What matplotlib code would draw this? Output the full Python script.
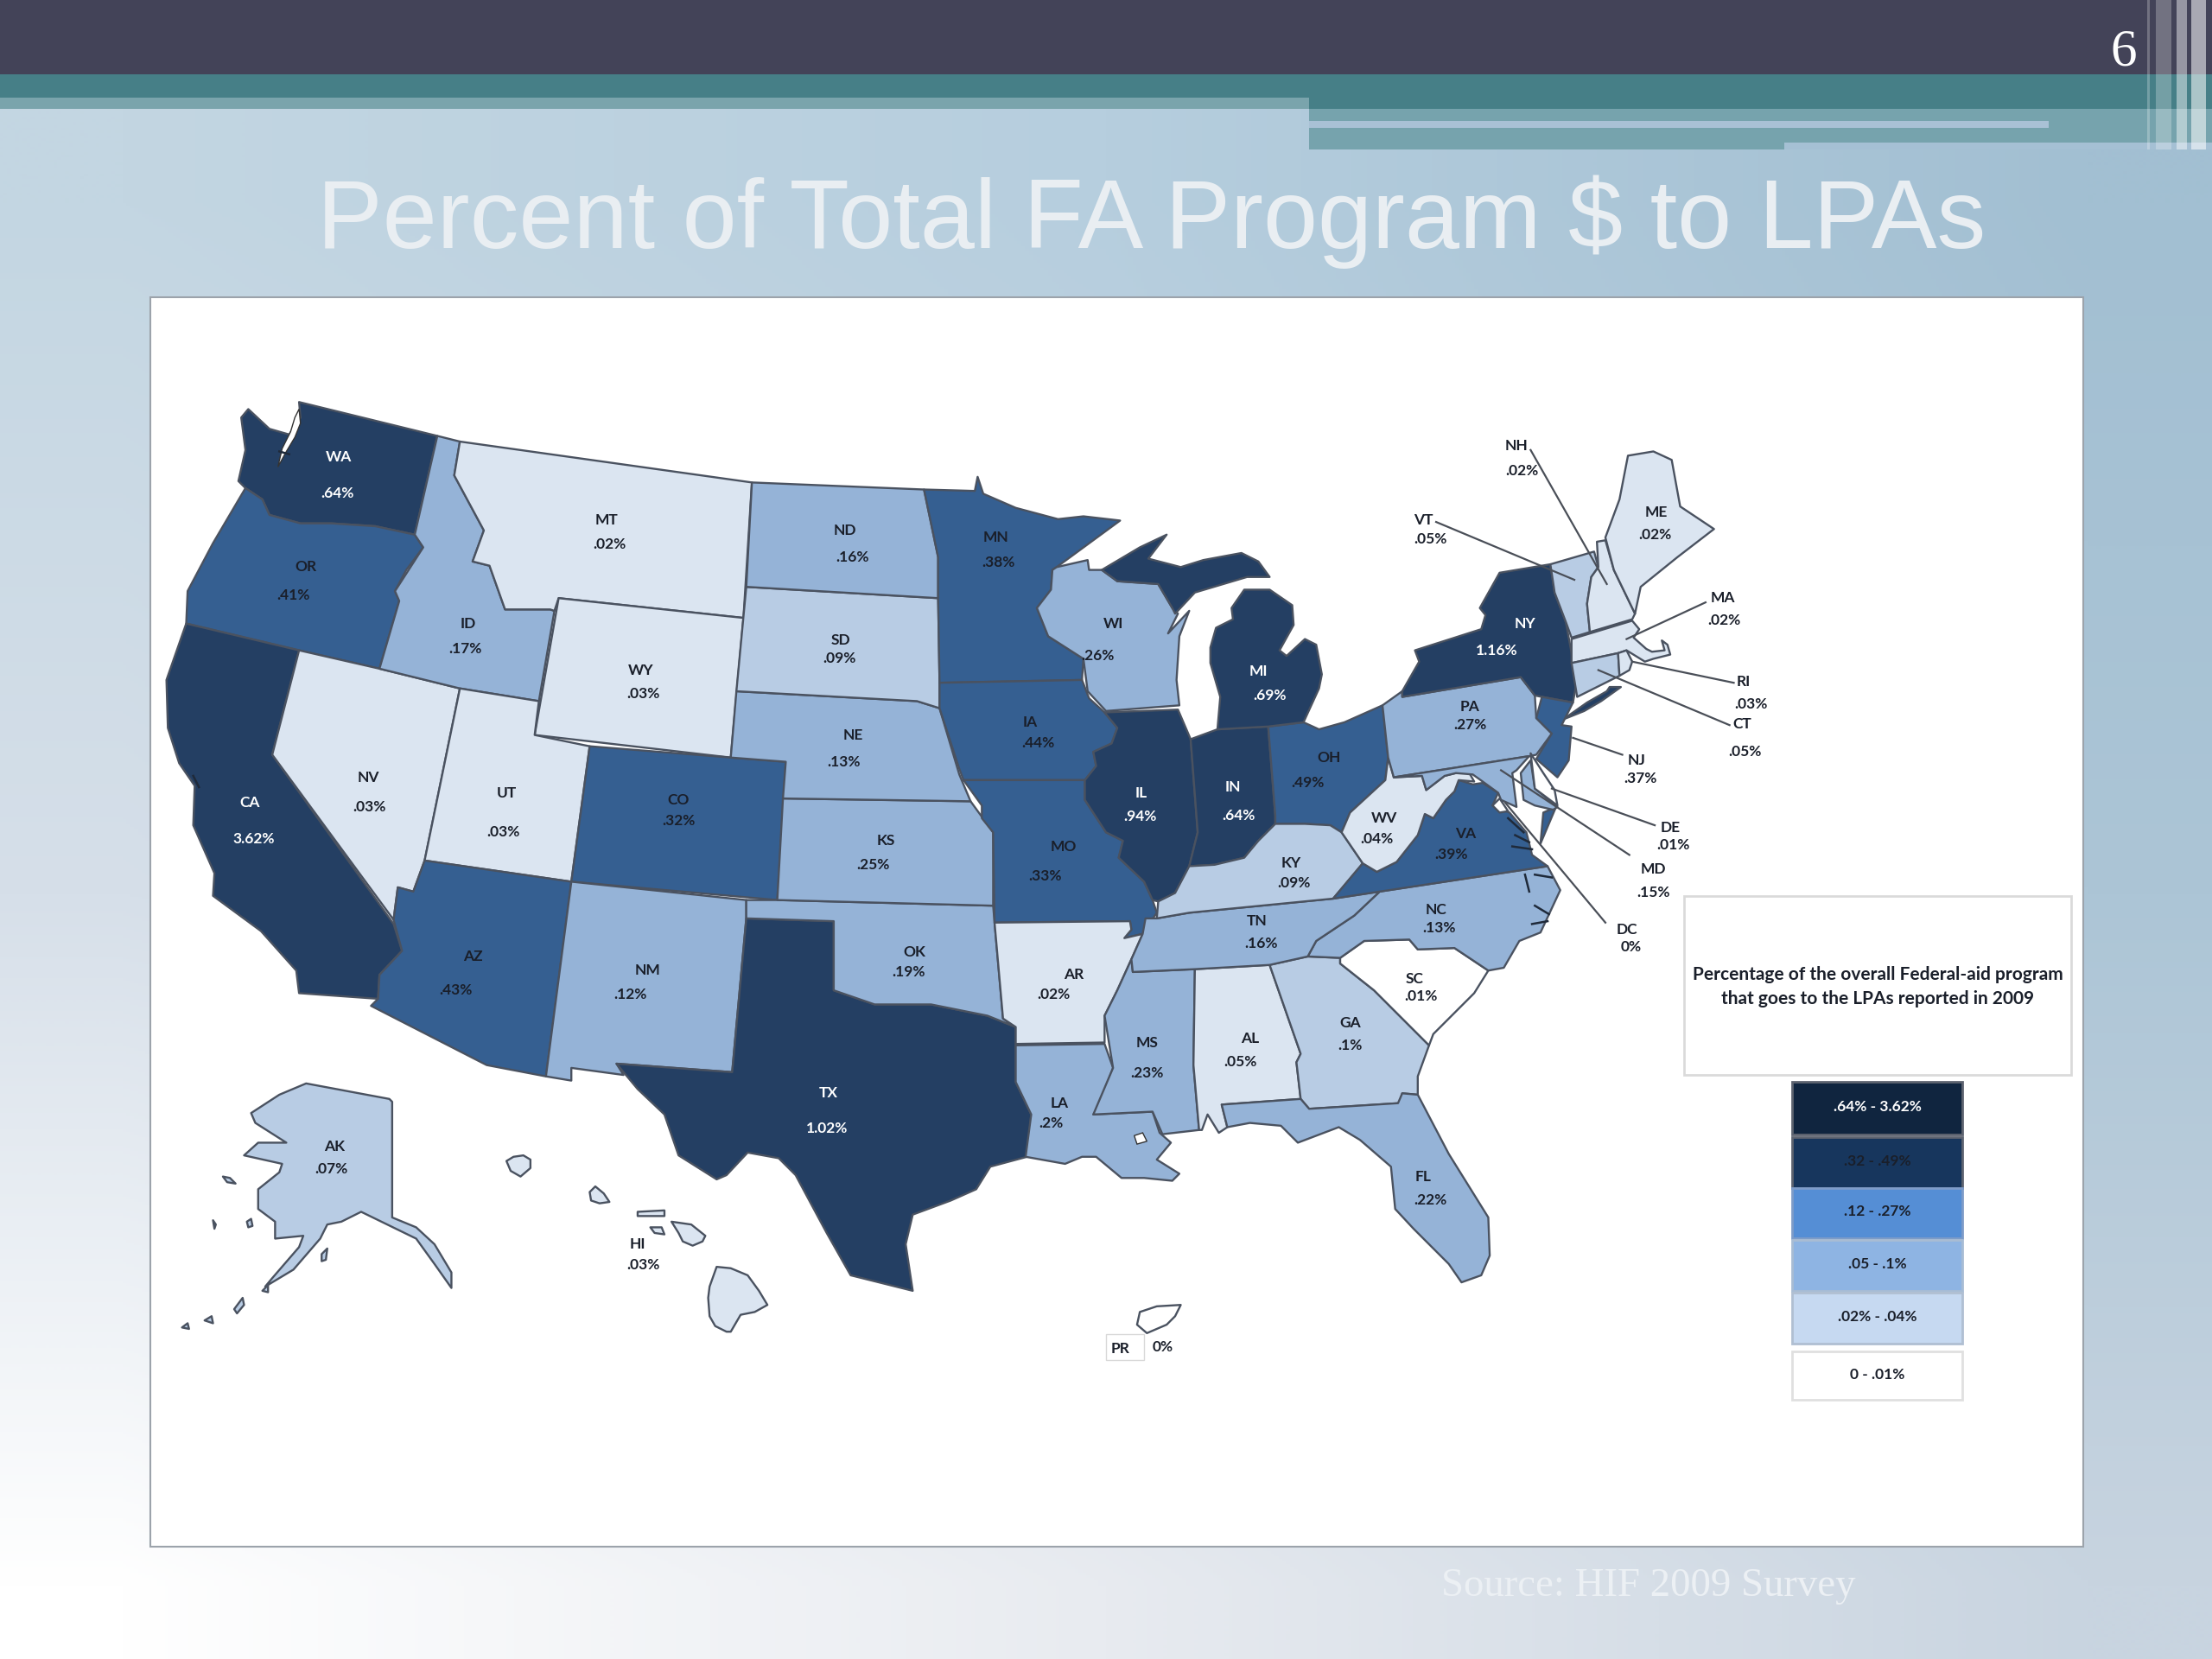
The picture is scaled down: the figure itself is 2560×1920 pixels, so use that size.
import numpy as np
import matplotlib
matplotlib.use("Agg")
import matplotlib.pyplot as plt
from matplotlib.patches import Polygon, Rectangle

# ---------- data ----------
title_text = "Percent of Total FA Program $ to LPAs"
source_text = "Source: HIF 2009 Survey"
slide_number = "6"
legend_title = "Percentage of the overall Federal-aid program\nthat goes to the LPAs reported in 2009"
legend_labels = [".64% - 3.62%", ".32 - .49%", ".12 - .27%", ".05 - .1%", ".02% - .04%", "0 - .01%"]
legend_colors = ["#10253F", "#17365D", "#558ED5", "#8EB4E3", "#C6D9F1", "#FFFFFF"]

state_values = {
    "WA": ".64%", "OR": ".41%", "CA": "3.62%", "NV": ".03%", "ID": ".17%", "MT": ".02%", "WY": ".03%",
    "UT": ".03%", "AZ": ".43%", "CO": ".32%", "NM": ".12%", "ND": ".16%", "SD": ".09%", "NE": ".13%",
    "KS": ".25%", "OK": ".19%", "TX": "1.02%", "MN": ".38%", "IA": ".44%", "MO": ".33%", "AR": ".02%",
    "LA": ".2%", "MS": ".23%", "AL": ".05%", "GA": ".1%", "FL": ".22%", "SC": ".01%", "NC": ".13%",
    "TN": ".16%", "KY": ".09%", "VA": ".39%", "WV": ".04%", "OH": ".49%", "PA": ".27%", "IN": ".64%",
    "IL": ".94%", "MI": ".69%", "WI": ".26%", "NY": "1.16%", "ME": ".02%", "NH": ".02%", "VT": ".05%",
    "MA": ".02%", "RI": ".03%", "CT": ".05%", "NJ": ".37%", "DE": ".01%", "MD": ".15%", "DC": "0%",
    "AK": ".07%", "HI": ".03%", "PR": "0%",
}
class_top = ["WA", "CA", "TX", "NY", "IL", "IN", "MI"]
class_high = ["OR", "CO", "AZ", "MN", "IA", "MO", "OH", "VA", "NJ"]
class_mid = ["ID", "ND", "NE", "KS", "OK", "NM", "WI", "PA", "TN", "NC", "MS", "LA", "FL", "MD"]
class_low = ["SD", "KY", "GA", "AK", "VT", "CT"]
class_pale = ["MT", "WY", "NV", "UT", "AR", "AL", "ME", "NH", "MA", "RI", "WV", "HI"]
class_none = ["SC", "DE", "DC", "PR"]
map_colors = ["#243F63", "#355F91", "#95B3D7", "#B8CCE4", "#DBE5F1", "#FFFFFF"]

# state outlines, in map units
outlines = {
 "WA": [[(212,285),(310,309),(294,379),(266,373),(235,371),(213,371),(191,365),(186,354),(174,346),(169,341),(174,319),(171,296),(176,290),(191,304),(205,308),(213,296)]],
 "OR": [[(174,346),(186,354),(191,365),(213,371),(235,371),(266,373),(294,379),(300,388),(288,404),(280,419),(283,426),(269,474),(212,461),(132,442),(133,419),(151,385)]],
 "CA": [[(132,442),(212,461),(193,535),(279,655),(285,674),(269,691),(268,708),(212,704),(210,688),(185,660),(151,635),(152,619),(137,585),(138,557),(127,541),(119,516),(118,482)]],
 "NV": [[(212,461),(269,474),(326,488),(301,610),(293,632),(282,629),(279,652),(193,535)]],
 "ID": [[(310,309),(326,313),(322,337),(343,376),(335,398),(347,401),(358,432),(390,432),(393,433),(382,497),(326,488),(269,474),(283,426),(280,419),(300,388),(294,379)]],
 "MT": [[(326,313),(533,342),(527,438),(396,424),(393,433),(390,432),(358,432),(347,401),(335,398),(343,376),(322,337)]],
 "WY": [[(396,424),(527,438),(518,537),(379,521)]],
 "UT": [[(326,488),(382,497),(379,521),(418,529),(405,625),(301,610)]],
 "CO": [[(418,529),(518,537),(557,540),(551,638),(405,625)]],
 "AZ": [[(301,610),(405,625),(387,763),(345,755),(263,713),(268,708),(269,691),(285,674),(279,652),(282,629),(293,632)]],
 "NM": [[(405,625),(529,638),(529,651),(519,760),(437,754),(442,762),(405,757),(405,766),(387,763)]],
 "TX": [[(529,651),(591,653),(591,702),(620,712),(660,712),(700,720),(720,728),(720,767),(731,790),(728,820),(702,827),(692,843),(674,851),(647,861),(642,882),(647,915),(603,904),(586,874),(564,833),(552,821),(530,817),(515,833),(508,836),(481,819),(471,790),(452,772),(437,754),(519,760)]],
 "OK": [[(529,638),(551,638),(704,642),(705,654),(711,722),(720,728),(700,720),(660,712),(620,712),(591,702),(591,653),(529,651)]],
 "KS": [[(555,566),(688,568),(704,590),(704,642),(551,638)]],
 "NE": [[(522,490),(650,497),(666,502),(680,549),(688,568),(555,566),(557,540),(518,537)]],
 "SD": [[(529,416),(665,424),(666,484),(666,502),(650,497),(522,490)]],
 "ND": [[(533,342),(655,347),(665,395),(665,424),(529,416)]],
 "MN": [[(655,347),(691,348),(693,338),(697,350),(720,360),(750,368),(768,366),(794,369),(749,402),(746,404),(745,418),(735,431),(743,451),(768,467),(767,482),(666,484),(665,424),(665,395)]],
 "WI": [[(749,402),(771,397),(772,404),(781,404),(792,412),(821,414),(831,431),(835,435),(828,449),(843,433),(836,451),(834,482),(836,500),(784,504),(771,490),(768,467),(743,451),(735,431),(745,418),(746,404)]],
 "IA": [[(666,484),(767,482),(772,495),(783,505),(792,516),(788,527),(775,533),(777,543),(769,553),(683,553),(680,545),(666,502)]],
 "MO": [[(683,553),(769,553),(769,567),(784,590),(796,596),(793,608),(811,625),(817,638),(820,647),(810,662),(797,665),(802,659),(801,653),(705,654),(704,590),(696,580),(696,571)]],
 "IL": [[(783,505),(835,503),(844,524),(849,590),(843,614),(833,633),(821,639),(817,638),(811,625),(793,608),(796,596),(784,590),(769,567),(769,553),(777,543),(775,533),(788,527),(792,516)]],
 "IN": [[(844,524),(863,517),(899,515),(904,578),(904,584),(892,596),(882,608),(861,613),(843,614),(849,590)]],
 "OH": [[(899,515),(924,512),(935,517),(953,512),(980,500),(984,537),(982,553),(957,576),(951,590),(943,585),(925,584),(904,584),(904,578)]],
 "MI": [[(863,517),(865,494),(858,470),(858,459),(862,445),(874,439),(873,431),(882,418),(900,418),(916,429),(917,443),(907,461),(912,465),(925,453),(933,457),(937,478),(935,488),(924,512),(899,515)],
        [(781,404),(808,388),(827,379),(814,396),(837,402),(853,397),(880,392),(892,398),(900,409),(884,409),(847,420),(833,435),(831,431),(821,414),(792,412)]],
 "AR": [[(705,654),(801,653),(802,659),(797,665),(810,662),(802,680),(792,702),(783,720),(783,739),(720,740),(720,728),(711,722)]],
 "LA": [[(720,741),(783,740),(789,757),(777,788),(775,790),(817,788),(822,803),(830,810),(820,822),(836,832),(831,837),(811,835),(795,835),(777,820),(767,820),(755,825),(727,820),(731,790),(720,767)]],
 "MS": [[(803,689),(847,687),(846,755),(850,801),(824,804),(817,788),(775,790),(789,757),(783,720),(792,702),(802,680)]],
 "AL": [[(847,687),(900,684),(922,747),(919,753),(922,779),(866,783),(870,799),(864,803),(856,790),(852,801),(850,801),(846,755)]],
 "GA": [[(900,684),(927,678),(950,679),(950,683),(974,702),(992,720),(1013,741),(1005,763),(1005,776),(994,775),(992,782),(928,786),(922,779),(919,753),(922,747)]],
 "FL": [[(866,783),(922,779),(928,786),(991,782),(994,775),(1005,776),(1027,818),(1055,863),(1056,890),(1050,904),(1036,909),(1027,896),(1002,871),(989,857),(986,827),(964,808),(949,799),(920,810),(908,798),(886,796),(870,799)]],
 "SC": [[(950,683),(950,679),(967,667),(999,666),(1005,673),(1031,672),(1055,688),(1045,704),(1016,733),(1013,741),(992,720),(974,702)]],
 "NC": [[(927,678),(933,667),(960,649),(978,632),(1097,614),(1106,631),(1092,661),(1077,667),(1066,686),(1055,688),(1031,672),(1005,673),(999,666),(967,667),(950,679)]],
 "TN": [[(812,651),(820,651),(843,647),(945,637),(978,632),(960,649),(933,667),(927,678),(900,684),(847,687),(803,689),(802,680),(810,662)]],
 "KY": [[(820,651),(821,639),(833,633),(843,614),(861,613),(882,608),(892,596),(904,584),(925,584),(943,585),(951,590),(966,612),(945,637),(843,647)]],
 "VA": [[(966,612),(976,618),(990,611),(1005,592),(1010,577),(1016,580),(1025,567),(1031,561),(1034,553),(1044,556),(1051,555),(1062,562),(1058,571),(1070,576),(1082,590),(1086,606),(1097,614),(945,637)],
        [(1103,572),(1094,576),(1092,598)]],
 "WV": [[(984,537),(988,551),(1008,550),(1011,560),(1024,550),(1032,548),(1041,547),(1045,554),(1034,553),(1031,561),(1025,567),(1016,580),(1010,577),(1005,592),(990,611),(976,618),(966,612),(951,590),(957,576),(982,553)]],
 "PA": [[(980,500),(994,490),(994,494),(1078,480),(1088,493),(1089,509),(1100,520),(1089,535),(1084,536),(988,551),(984,537)]],
 "NY": [[(994,494),(994,490),(1006,469),(1003,461),(1050,446),(1053,436),(1049,431),(1063,406),(1099,400),(1102,420),(1110,441),(1114,463),(1117,487),(1115,498),(1093,494),(1088,493),(1078,480)],
        [(1108,510),(1125,498),(1139,490),(1141,487),(1149,487),(1135,497),(1123,504)]],
 "NJ": [[(1093,494),(1115,498),(1107,514),(1114,515),(1112,539),(1104,551),(1089,538),(1100,520),(1089,509)]],
 "VT": [[(1099,400),(1130,391),(1133,402),(1128,409),(1125,428),(1127,448),(1114,452),(1110,441),(1102,420)]],
 "NH": [[(1132,384),(1138,383),(1144,404),(1159,435),(1157,439),(1127,448),(1125,428),(1128,409),(1133,402)]],
 "ME": [[(1138,381),(1148,354),(1154,323),(1172,320),(1185,326),(1191,359),(1215,375),(1189,395),(1163,416),(1159,435),(1144,404)]],
 "MA": [[(1114,453),(1157,440),(1162,446),(1158,452),(1167,460),(1171,462),(1180,461),(1178,454),(1182,457),(1184,464),(1172,467),(1166,469),(1153,461),(1147,463),(1114,470)]],
 "CT": [[(1114,470),(1147,463),(1148,479),(1118,494)]],
 "RI": [[(1147,463),(1153,461),(1157,469),(1155,475),(1148,479)]],
 "MD": [[(988,551),(1084,536),(1075,546),(1072,548),(1075,572),(1064,567),(1062,562),(1051,554),(1044,549),(1032,548),(1024,550),(1011,560),(1008,550)],
        [(1078,548),(1085,539),(1088,559),(1104,572),(1101,574),(1088,571),(1080,567)]],
 "DE": [[(1085,534),(1094,548),(1102,560),(1104,571),(1088,559)]],
 "DC": [[(1058,571),(1063,566),(1069,575),(1063,576)]],
 "AK": [[(278,781),(278,863),(295,870),(308,882),(320,902),(320,913),(308,896),(295,878),(256,859),(242,866),(232,868),(227,878),(208,900),(188,912),(193,906),(212,884),(215,876),(195,878),(195,866),(183,857),(183,843),(198,831),(200,825),(173,819),(183,810),(203,810),(181,796),(178,789),(198,776),(217,768),(276,779)],
        [(129,941),(133,938),(134,942)],[(145,936),(150,933),(151,938)],[(166,928),(172,920),(173,925),(168,931)],[(186,915),(190,911),(190,916)],
        [(158,834),(163,835),(167,839),(161,838)],[(151,865),(153,868),(152,871)],[(175,866),(178,864),(179,869),(176,870)],[(228,889),(232,885),(231,893),(228,894)]],
 "HI": [[(359,823),(364,820),(371,819),(376,822),(376,828),(369,834),(362,830)],[(422,841),(418,845),(419,851),(425,853),(432,852),(428,846)],[(452,859),(471,858),(471,862),(452,862)],[(461,870),(469,870),(471,875),(464,874)],
        [(476,866),(490,868),(500,876),(498,880),(491,883),(484,880),(481,874)],[(508,898),(518,899),(530,904),(538,915),(544,925),(535,930),(525,932),(518,944),(515,944),(507,940),(503,933),(502,920),(503,912)]],
 "PR": [[(808,930),(820,926),(837,925),(833,933),(827,939),(820,942),(813,945),(806,939)]],
}
water_bodies = [
    [(212,290),(213,300),(209,310),(203,320),(197,331),(200,318),(206,306),(209,296)],
    [(804,805),(810,803),(813,809),(806,811)],
]
coast_marks = [
    [(1069,580),(1080,590)],[(1074,592),(1084,597)],[(1072,600),(1086,602)],[(1081,620),(1084,632)],[(1088,620),(1100,622)],
    [(1088,642),(1098,648)],[(1086,655),(1097,653)],[(198,320),(205,322)],[(137,550),(141,558)],
]
label_anchor = {
 "WA":((240,324),(239,350)),"OR":((217,402),(208,422)),"CA":((177,569),(180,595)),"NV":((261,551),(262,572)),
 "ID":((332,442),(330,460)),"MT":((430,369),(432,386)),"WY":((454,475),(456,492)),"UT":((359,562),(357,590)),
 "AZ":((335,678),(323,702)),"CO":((481,567),(481,582)),"NM":((459,688),(447,705)),"ND":((599,376),(604,395)),
 "SD":((596,454),(595,467)),"NE":((605,521),(598,540)),"KS":((628,596),(619,613)),"OK":((648,675),(644,689)),
 "TX":((587,775),(586,800)),"MN":((706,381),(708,399)),"IA":((730,512),(736,527)),"MO":((754,600),(741,621)),
 "AR":((761,691),(747,705)),"LA":((751,782),(745,796)),"MS":((813,739),(813,761)),"AL":((886,736),(879,753)),
 "GA":((957,725),(957,741)),"FL":((1009,834),(1014,851)),"SC":((1003,694),(1007,706)),"NC":((1018,645),(1020,658)),
 "TN":((891,653),(894,669)),"KY":((915,612),(917,626)),"VA":((1039,591),(1029,606)),"WV":((981,580),(976,595)),
 "OH":((942,537),(927,555)),"PA":((1042,501),(1042,514)),"IN":((874,558),(878,578)),"IL":((809,562),(808,579)),
 "MI":((892,476),(900,493)),"WI":((789,442),(778,465)),"NY":((1081,442),(1061,461)),"ME":((1174,363),(1173,379)),
 "NH":((1075,316),(1079,334)),"VT":((1009,369),(1014,382)),"MA":((1221,424),(1222,440)),"RI":((1236,483),(1241,499)),
 "CT":((1235,513),(1237,533)),"NJ":((1160,539),(1163,552)),"DE":((1184,587),(1186,599)),"MD":((1172,616),(1172,633)),
 "DC":((1153,659),(1156,671)),"AK":((237,813),(235,829)),"HI":((452,882),(456,897)),"PR":((794,956),(824,955)),
}
leader_lines = [
    ((1085,319),(1139,414)),((1018,370),(1116,411)),((1209,427),(1153,453)),((1229,484),(1157,469)),
    ((1226,514),(1133,475)),((1150,535),(1115,523)),((1173,585),(1100,559)),((1155,606),(1064,546)),((1138,654),(1067,569)),
]
# ---------- drawing ----------
plt.rcParams["font.family"] = ["Lato", "DejaVu Sans"]
fig = plt.figure(figsize=(25.6, 19.2), dpi=100)
ax = fig.add_axes([0, 0, 1, 1])
ax.set_xlim(0, 1568); ax.set_ylim(1176, 0); ax.axis("off")

bg = np.array([
    [[0xC3,0xD6,0xE2],[0xB6,0xCE,0xDE],[0xA2,0xBF,0xD2]],
    [[0xD6,0xDF,0xE9],[0xC4,0xD3,0xE1],[0xAC,0xC5,0xD6]],
    [[0xFF,0xFF,0xFF],[0xE8,0xEB,0xF0],[0xC8,0xD4,0xE0]],
]) / 255
ax.imshow(bg, extent=(-260, 1828, 1370, -100), interpolation="bilinear", aspect="auto", zorder=0)
ax.set_xlim(0, 1568); ax.set_ylim(1176, 0)

def box(x0, y0, x1, y1, **kw):
    ax.add_patch(Rectangle((x0, y0), x1 - x0, y1 - y0, lw=kw.pop("lw", 0), **kw))

box(0, 0, 1568, 52.5, fc="#434358", zorder=1)
box(0, 52.5, 1568, 77, fc="#467F87", zorder=1)
box(0, 69, 928, 77, fc="#7AA4AC", zorder=2)
box(928, 77, 1568, 106, fc="#76A3AD", zorder=1)
box(928, 86, 1452, 90.5, fc="#A9C1D5", zorder=2)
box(1265, 101, 1568, 106, fc="#A5C0D4", zorder=2)
for x0, x1, a in [(1522, 1524, .25), (1528, 1539, .25), (1543, 1550, .45), (1553, 1564, .55)]:
    box(x0, 0, x1, 106, fc="white", alpha=a, zorder=3)
ax.text(1505.5, 46, slide_number, color="white", fontsize=44, family="Liberation Serif", ha="center", va="baseline", zorder=5)
ax.text(816.5, 176, title_text, color="#E9EEF2", fontsize=81.6, family="Liberation Sans", ha="center", va="baseline", zorder=5)
ax.text(1168.5, 1131, source_text, color="#ECF0F4", fontsize=33.7, family="Liberation Serif", ha="center", va="baseline", zorder=5)

box(106.5, 210.5, 1476.5, 1096.5, fc="white", ec="#9CA3AB", lw=1.5, zorder=2)

classes = [class_top, class_high, class_mid, class_low, class_pale, class_none]
state_color = {s: map_colors[i] for i, group in enumerate(classes) for s in group}
for code, parts in outlines.items():
    for part in parts:
        ax.add_patch(Polygon(part, closed=True, fc=state_color[code], ec="#4A5260", lw=1.7, joinstyle="round", zorder=4))
for part in water_bodies:
    ax.add_patch(Polygon(part, closed=True, fc="white", ec="#333333", lw=1.0, zorder=5))
for part in coast_marks:
    ax.plot(*zip(*part), color="#1F2A3A", lw=1.8, zorder=5)
for (a, b) in leader_lines:
    ax.plot([a[0], b[0]], [a[1], b[1]], color="#4A4F58", lw=1.6, zorder=6)

for code, (p1, p2) in label_anchor.items():
    col = "white" if code in class_top else "#1A1F2A"
    for txt, p in ((code, p1), (state_values[code], p2)):
        ax.text(p[0], p[1], txt, color=col, fontsize=12.5, family="Lato", weight="bold", ha="center", va="center", zorder=7)
box(784, 946, 811, 964, fc="none", ec="#D8D8D8", lw=1, zorder=6)

box(1194, 635, 1468, 762, fc="white", ec="#DADADA", lw=2, zorder=4)
ax.text(1331, 699.5, legend_title, color="#1A1F2A", fontsize=15, weight="bold", ha="center", va="center", linespacing=1.5, zorder=7)
swatches = [(767, 804), (806, 842), (842, 878), (879, 915), (916.5, 952.5), (958, 992.5)]
edges = ["#5E6470", "#5E6470", "#7E9CC8", "#A8BCD4", "#B0BFD2", "#E0E0E0"]
for (y0, y1), c, e, lab, i in zip(swatches, legend_colors, edges, legend_labels, range(6)):
    box(1270.5, y0, 1391, y1, fc=c, ec=e, lw=2, zorder=4)
    ax.text(1331, (y0 + y1) / 2 - 1, lab, color="white" if i == 0 else "#1A1F2A", fontsize=12.5, weight="bold",
            ha="center", va="center", zorder=7)

fig.savefig("out.png", dpi=100)
